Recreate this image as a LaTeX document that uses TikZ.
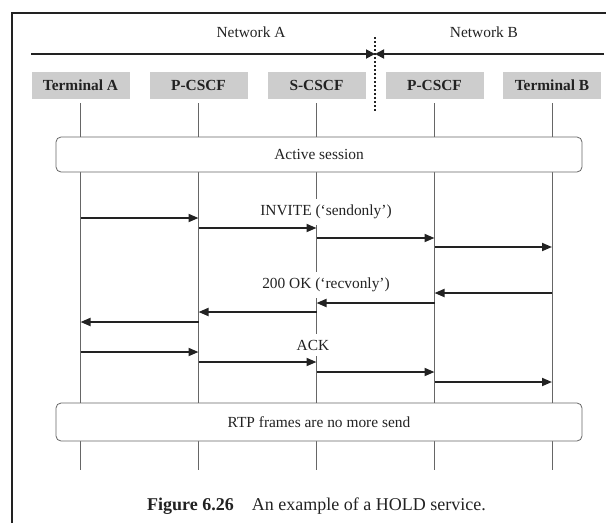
\documentclass[tikz,border=0pt]{standalone}
\usepackage{fontspec}
\setmainfont{Liberation Serif}
\usetikzlibrary{arrows.meta}
\definecolor{ink}{HTML}{222222}
\definecolor{hdrgray}{HTML}{CDCDCD}
\definecolor{lifegray}{HTML}{666666}
\begin{document}
\begin{tikzpicture}[x=1pt,y=-1pt,
  every node/.style={font=\fontsize{15.4}{18}\selectfont, text=ink},
  entity/.style={fill=hdrgray, minimum width=98pt, minimum height=27pt,
    inner sep=0pt, font=\fontsize{15.4}{18}\selectfont\bfseries},
  lifeline/.style={draw=lifegray, line width=0.8pt},
  phase/.style={draw=lifegray, fill=white, rounded corners=5pt, line width=0.8pt,
    minimum width=526pt, inner sep=0pt},
  msg/.style={draw=ink, line width=1.8pt, -{Triangle[length=10pt,width=8pt]}},
  msglabel/.style={fill=white, inner xsep=2pt, inner ysep=6pt},
  netline/.style={draw=ink, line width=1.8pt, -{Triangle[length=9pt,width=9pt]}},
]
\useasboundingbox (0,0) rectangle (606,523);

% page frame
\draw[ink, line width=2.5pt] (12,523) -- (12,13) -- (606,13);

% network domains
\node (netA) at (251,32.5) {Network A};
\node (netB) at (484,32.5) {Network B};
\coordinate (netL) at (31,54);
\coordinate (netR) at (604,54);
\coordinate (border) at (375,54);
\coordinate (bTop) at (375,37);
\coordinate (bBot) at (375,112);
\draw[netline] (netL) -- (border);
\draw[netline] (netR) -- (border);
\draw[ink, line width=2.6pt, dash pattern=on 2.2pt off 1.8pt] (bTop) -- (bBot);

% entities
\node[entity] (tA) at (80.5,85.5) {Terminal A};
\node[entity] (pA) at (198.5,85.5) {P-CSCF};
\node[entity] (sA) at (316.5,85.5) {S-CSCF};
\node[entity] (pB) at (434.5,85.5) {P-CSCF};
\node[entity] (tB) at (552,85.5) {Terminal B};

% lifelines
\foreach \e in {tA,pA,sA,pB,tB}
  \draw[lifeline] ([yshift=-4pt]\e.south) -- (\e |- 0,470);

% session phases
\node[phase, minimum height=35pt] (active) at (319,154.5) {Active session};
\node[phase, minimum height=38pt] (rtp) at (319,422) {RTP frames are no more send};

% message labels
\node[msglabel] (invite) at (326,212) {INVITE (‘sendonly’)};
\node[msglabel] (ok) at (326,285) {200 OK (‘recvonly’)};
\node[msglabel] (ack) at (313,345) {ACK};

% INVITE
\draw[msg] (tA |- 0,218) -- (pA |- 0,218);
\draw[msg] (pA |- 0,228) -- (sA |- 0,228);
\draw[msg] (sA |- 0,238) -- (pB |- 0,238);
\draw[msg] (pB |- 0,247) -- (tB |- 0,247);

% 200 OK
\draw[msg] (tB |- 0,293) -- (pB |- 0,293);
\draw[msg] (pB |- 0,303) -- (sA |- 0,303);
\draw[msg] (sA |- 0,312) -- (pA |- 0,312);
\draw[msg] (pA |- 0,322) -- (tA |- 0,322);

% ACK
\draw[msg] (tA |- 0,352) -- (pA |- 0,352);
\draw[msg] (pA |- 0,362) -- (sA |- 0,362);
\draw[msg] (sA |- 0,372) -- (pB |- 0,372);
\draw[msg] (pB |- 0,382) -- (tB |- 0,382);

% caption
\node[font=\fontsize{18}{21}\selectfont] (caption) at (316.5,506)
  {\textbf{Figure 6.26}\quad An example of a HOLD service.};
\end{tikzpicture}
\end{document}
